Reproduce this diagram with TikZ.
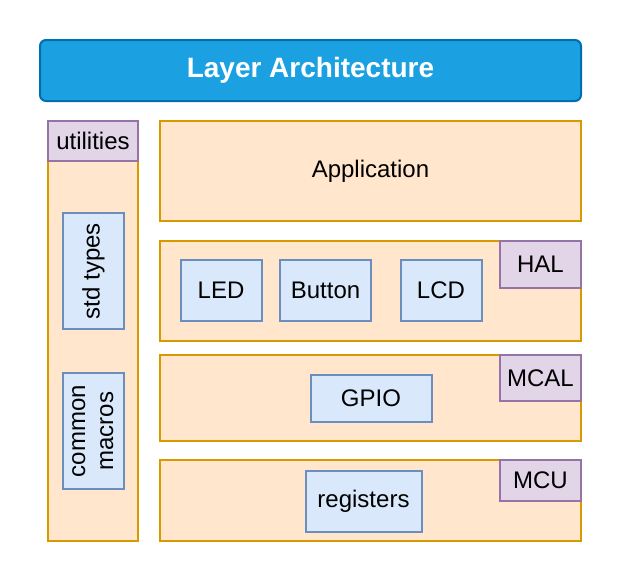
\documentclass[tikz,border=0pt]{standalone}
\usepackage{fontspec}
\setmainfont{Liberation Sans}
\usetikzlibrary{positioning}

\definecolor{titlefill}{HTML}{1BA1E2}
\definecolor{titleline}{HTML}{006EAF}
\definecolor{layerfill}{HTML}{FFE6CC}
\definecolor{layerline}{HTML}{D79B00}
\definecolor{tagfill}{HTML}{E1D5E7}
\definecolor{tagline}{HTML}{9673A6}
\definecolor{modfill}{HTML}{DAE8FC}
\definecolor{modline}{HTML}{6C8EBF}

\tikzset{
    base/.style={draw, line width=2pt, inner sep=0pt, outer sep=0pt,
        font=\fontsize{24}{28}\selectfont},
    layerbox/.style={base, fill=layerfill, draw=layerline},
    tagbox/.style={base, fill=tagfill, draw=tagline},
    modbox/.style={base, fill=modfill, draw=modline}
}

\begin{document}
\begin{tikzpicture}[x=1pt, y=-1pt]
    \useasboundingbox (0,0) rectangle (624,584);

    % title
    \node [base,
        fill=titlefill, draw=titleline,
        rounded corners=6pt,
        minimum width=541, minimum height=61,
        text=white, font=\bfseries\fontsize{28}{32}\selectfont
    ] (title) at (310.5,70.5) {Layer Architecture};

    % utilities column
    \node [layerbox,
        minimum width=90, minimum height=420
    ] (util) at (93,331) {};
    \node [tagbox,
        minimum width=90, minimum height=40
    ] (utiltag) at (93,141) {utilities};
    \node [modbox,
        minimum width=61, minimum height=116
    ] (stdtypes) at (93.5,271) {\rotatebox{90}{std types}};
    \node [modbox,
        minimum width=61, minimum height=116
    ] (macros) at (93.5,431) {\rotatebox{90}{%
        \begin{tabular}{@{}c@{}}common\\ macros\end{tabular}}};

    % application
    \node [layerbox,
        minimum width=421, minimum height=100
    ] (app) at (370.5,171) {Application};

    % hal
    \node [layerbox,
        minimum width=421, minimum height=100
    ] (hal) at (370.5,291) {};
    \node [tagbox,
        minimum width=81, minimum height=47
    ] (haltag) at (540.5,264) {HAL};
    \node [modbox,
        minimum width=81, minimum height=61
    ] (led) at (221,290.5) {LED};
    \node [modbox,
        minimum width=91, minimum height=61
    ] (button) at (325.5,290.5) {Button};
    \node [modbox,
        minimum width=81, minimum height=61
    ] (lcd) at (441,290.5) {LCD};

    % mcal
    \node [layerbox,
        minimum width=421, minimum height=86
    ] (mcal) at (370.5,398) {};
    \node [tagbox,
        minimum width=81, minimum height=46
    ] (mcaltag) at (540.5,378) {MCAL};
    \node [modbox,
        minimum width=121, minimum height=47
    ] (gpio) at (371,398) {GPIO};

    % mcu
    \node [layerbox,
        minimum width=421, minimum height=81
    ] (mcu) at (370.5,500.5) {};
    \node [tagbox,
        minimum width=81, minimum height=41
    ] (mcutag) at (540.5,480.5) {MCU};
    \node [modbox,
        minimum width=116, minimum height=61
    ] (regs) at (363.5,501) {registers};
\end{tikzpicture}
\end{document}
